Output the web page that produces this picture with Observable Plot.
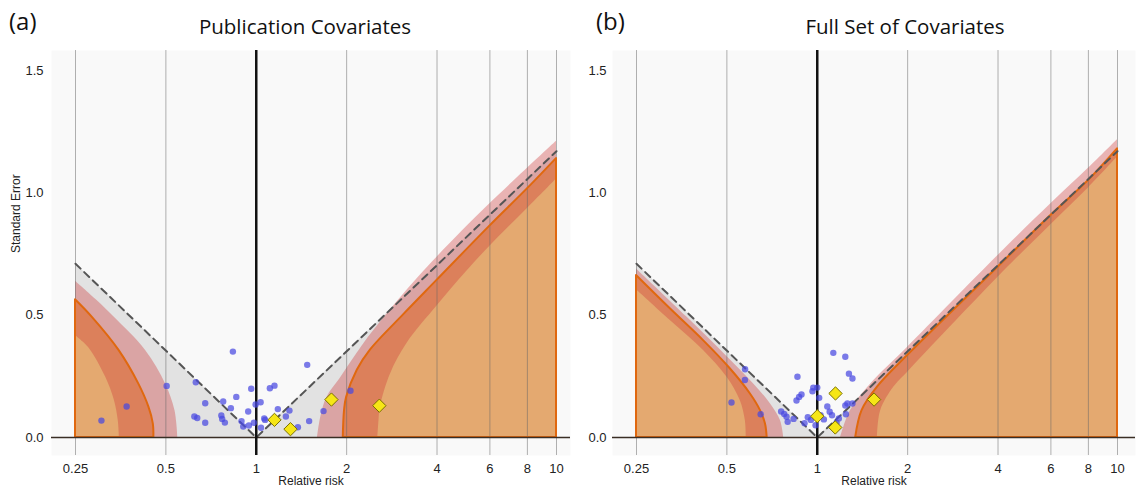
<!DOCTYPE html>
<html><head><meta charset="utf-8">
<script src="https://cdn.jsdelivr.net/npm/d3@7"></script>
<script src="https://cdn.jsdelivr.net/npm/@observablehq/plot@0.6"></script>
<style>
body{margin:0;background:#fff;}
#wrap{position:relative;width:1137px;height:490px;overflow:hidden;background:#fff;}
.tag{position:absolute;font-family:"Open Sans",sans-serif;font-size:24px;line-height:30px;color:#111;}
.title{position:absolute;width:320px;text-align:center;font-family:"Open Sans",sans-serif;font-size:20.5px;line-height:26px;color:#111;}
.panel{position:absolute;top:40px;}
</style></head><body>
<div id="wrap">
<div class="tag" style="left:9px;top:6px">(a)</div>
<div class="title" style="left:145px;top:13px">Publication Covariates</div>
<div class="tag" style="left:596px;top:6px">(b)</div>
<div class="title" style="left:745px;top:13px">Full Set of Covariates</div>
<div id="pa" class="panel" style="left:0"></div>
<div id="pb" class="panel" style="left:565px"></div>
</div>
<script>
// ---- axis ticks ----
const xTicks = [0.25, 0.5, 1, 2, 4, 6, 8, 10];
const yTicks = [0, 0.5, 1.0, 1.5];

// ---- dashed 95% funnel (both panels) ----
const dashX = [0.25, 1, 10];
const dashSE = [0.71, 0, 1.17];

// ---- panel (a): Publication Covariates ----
const aLeftOrangeX = [0.25, 0.284, 0.349, 0.406, 0.439, 0.454, 0.456];
const aLeftOrangeSE = [0.563, 0.492, 0.356, 0.219, 0.124, 0.056, 0];
const aLeftInnerX = [0.25, 0.265, 0.281, 0.315, 0.337, 0.347, 0.35];
const aLeftInnerSE = [0.417, 0.39, 0.356, 0.247, 0.151, 0.069, 0];
const aLeftOuterX = [0.25, 0.295, 0.336, 0.428, 0.499, 0.536, 0.548];
const aLeftOuterSE = [0.639, 0.56, 0.492, 0.356, 0.219, 0.11, 0];

const aRightOrangeX = [1.949, 1.968, 2.0, 2.17, 2.40, 3.10, 4, 6, 8, 10];
const aRightOrangeSE = [0, 0.110, 0.164, 0.275, 0.357, 0.502, 0.642, 0.864, 1.016, 1.14];
const aRightInnerX = [2.54, 2.56, 2.59, 2.8, 3.18, 4, 5, 6, 8, 10];
const aRightInnerSE = [0, 0.06, 0.124, 0.26, 0.385, 0.537, 0.676, 0.782, 0.936, 1.057];
const aRightOuterX = [1.6, 1.64, 1.72, 1.9, 2.17, 2.4, 3.1, 4, 6, 10];
const aRightOuterSE = [0, 0.083, 0.165, 0.24, 0.345, 0.42, 0.587, 0.737, 0.955, 1.211];

const aStudyX = [0.305,0.37,0.503,0.629,0.836,0.676,0.776,0.858,0.962,1.11,1.15,0.823,0.622,0.636,0.676,0.765,0.77,0.786,0.893,0.905,0.945,0.982,0.94,0.995,1.034,1.037,1.063,1.18,1.255,1.29,1.376,1.478,1.5,2.06,1.675,1.07];
const aStudySE = [0.069,0.127,0.211,0.226,0.351,0.14,0.147,0.166,0.199,0.201,0.212,0.12,0.086,0.08,0.06,0.09,0.076,0.061,0.067,0.045,0.049,0.06,0.106,0.135,0.144,0.04,0.078,0.116,0.086,0.11,0.042,0.297,0.067,0.191,0.108,0.072];
const aDiamondX = [1.15, 1.30, 1.78, 2.57];
const aDiamondSE = [0.072, 0.034, 0.155, 0.13];

// ---- panel (b): Full Set of Covariates ----
const bLeftOrangeX = [0.25, 0.324, 0.418, 0.513, 0.599, 0.647, 0.672, 0.681];
const bLeftOrangeSE = [0.662, 0.526, 0.396, 0.281, 0.178, 0.110, 0.056, 0];
const bLeftInnerX = [0.25, 0.324, 0.418, 0.50, 0.554, 0.576, 0.58];
const bLeftInnerSE = [0.604, 0.478, 0.356, 0.247, 0.151, 0.069, 0];
const bLeftOuterX = [0.25, 0.368, 0.50, 0.614, 0.698, 0.754, 0.773];
const bLeftOuterSE = [0.689, 0.492, 0.331, 0.219, 0.138, 0.069, 0];

const bRightOrangeX = [1.343, 1.41, 1.587, 2, 4, 6, 8, 10];
const bRightOrangeSE = [0, 0.110, 0.206, 0.335, 0.696, 0.907, 1.05, 1.18];
const bRightInnerX = [1.587, 1.627, 1.80, 2, 4, 6, 8, 10];
const bRightInnerSE = [0, 0.110, 0.206, 0.267, 0.655, 0.87, 1.02, 1.146];
const bRightOuterX = [1.196, 1.29, 1.507, 2, 4, 6, 8, 10];
const bRightOuterSE = [0, 0.110, 0.219, 0.369, 0.744, 0.955, 1.10, 1.217];

const bStudyX = [1.131,1.24,1.275,1.31,0.859,0.575,0.574,0.518,0.648,0.97,1.0,0.964,0.886,0.87,0.853,1.015,1.08,1.1,1.12,1.26,1.31,1.24,1.246,1.18,0.758,0.776,0.79,0.797,0.834,0.93,0.907,0.952,0.987,1.052,1.026,1.16];
const bStudySE = [0.346,0.33,0.261,0.241,0.248,0.279,0.235,0.143,0.095,0.204,0.204,0.189,0.176,0.166,0.151,0.162,0.127,0.105,0.091,0.139,0.139,0.131,0.095,0.078,0.106,0.096,0.085,0.064,0.076,0.083,0.058,0.072,0.05,0.074,0.091,0.06];
const bDiamondX = [1.0, 1.15, 1.148, 1.546];
const bDiamondSE = [0.087, 0.18, 0.041, 0.155];

// ---- helpers ----
const pts = (xs, ys) => xs.map((x, i) => ({x, se: ys[i]}));
const band = (ix, iy, ox, oy) => ix.map((x, i) => ({x1: x, y1: iy[i], x2: ox[i], y2: oy[i]}));

function panel(cfg) {
  const orange = cfg.orange;
  const marks = [
    Plot.frame({fill: "#f9f9f9", stroke: "none"}),
    Plot.areaY(pts(dashX, dashSE), {x: "x", y: "se", fill: "#e2e2e2"}),
    ...orange.map(o => Plot.areaY(o, {x: "x", y: "se", fill: "#e4a970", curve: "catmull-rom"})),
    ...cfg.bands.map(b => Plot.area(b, {x1: "x1", y1: "y1", x2: "x2", y2: "y2", fill: "rgb(205,55,55)", fillOpacity: 0.36, curve: "catmull-rom"})),
    Plot.ruleX(xTicks.filter(d => d !== 1), {stroke: "#666", strokeOpacity: 0.5, strokeWidth: 1}),
    ...orange.map(o => Plot.areaY(o, {x: "x", y: "se", fill: "none", stroke: "#e0680f", strokeWidth: 2, curve: "catmull-rom"})),
    Plot.line(pts(dashX, dashSE), {x: "x", y: "se", stroke: "#555", strokeWidth: 2, strokeDasharray: "7,5"}),
    Plot.ruleY([0], {stroke: "#3a2e25", strokeWidth: 1.5}),
    Plot.ruleX([1], {stroke: "#111", strokeWidth: 2.5}),
    Plot.dot(cfg.studies, {x: "x", y: "se", r: 3.2, fill: "#4848e0", fillOpacity: 0.72}),
    Plot.dot(cfg.diamonds, {x: "x", y: "se", r: 6, symbol: "diamond2", fill: "#f6e616", stroke: "#7a7000", strokeWidth: 1}),
    Plot.text(xTicks, {x: d => d, text: d => String(d), frameAnchor: "bottom", lineAnchor: "top", dy: 8, fontSize: 13, fill: "#222"}),
    Plot.axisY(yTicks, {tickSize: 0, tickPadding: cfg.pad, tickFormat: d => d.toFixed(1), label: null, fontSize: 13}),
    Plot.text(["Relative risk"], {frameAnchor: "bottom", dy: 29, fontSize: 12, fill: "#222"})
  ];
  if (cfg.ylabel) marks.push(Plot.text([cfg.ylabel], {frameAnchor: "left", rotate: -90, dx: -35, fontSize: 12, fill: "#222"}));
  return Plot.plot({
    width: 572, height: 450,
    marginLeft: cfg.marginLeft, marginRight: 2, marginTop: 10, marginBottom: 35,
    x: {type: "log", domain: [0.25, 10], insetLeft: cfg.insetLeft, insetRight: cfg.insetRight, axis: null},
    y: {domain: [0, 1.5], insetTop: 20, insetBottom: 18},
    style: {fontFamily: '"Liberation Sans", Arial, sans-serif', fontSize: "13px", color: "#222", background: "transparent", overflow: "visible"},
    marks
  });
}

document.getElementById("pa").append(panel({
  marginLeft: 51, insetLeft: 24, insetRight: 14, pad: 8, ylabel: "Standard Error",
  orange: [pts(aLeftOrangeX, aLeftOrangeSE), pts(aRightOrangeX, aRightOrangeSE)],
  bands: [band(aLeftInnerX, aLeftInnerSE, aLeftOuterX, aLeftOuterSE), band(aRightInnerX, aRightInnerSE, aRightOuterX, aRightOuterSE)],
  studies: pts(aStudyX, aStudySE),
  diamonds: pts(aDiamondX, aDiamondSE)
}));
document.getElementById("pb").append(panel({
  marginLeft: 47, insetLeft: 24, insetRight: 18, pad: 6, ylabel: null,
  orange: [pts(bLeftOrangeX, bLeftOrangeSE), pts(bRightOrangeX, bRightOrangeSE)],
  bands: [band(bLeftInnerX, bLeftInnerSE, bLeftOuterX, bLeftOuterSE), band(bRightInnerX, bRightInnerSE, bRightOuterX, bRightOuterSE)],
  studies: pts(bStudyX, bStudySE),
  diamonds: pts(bDiamondX, bDiamondSE)
}));
</script>
</body></html>
